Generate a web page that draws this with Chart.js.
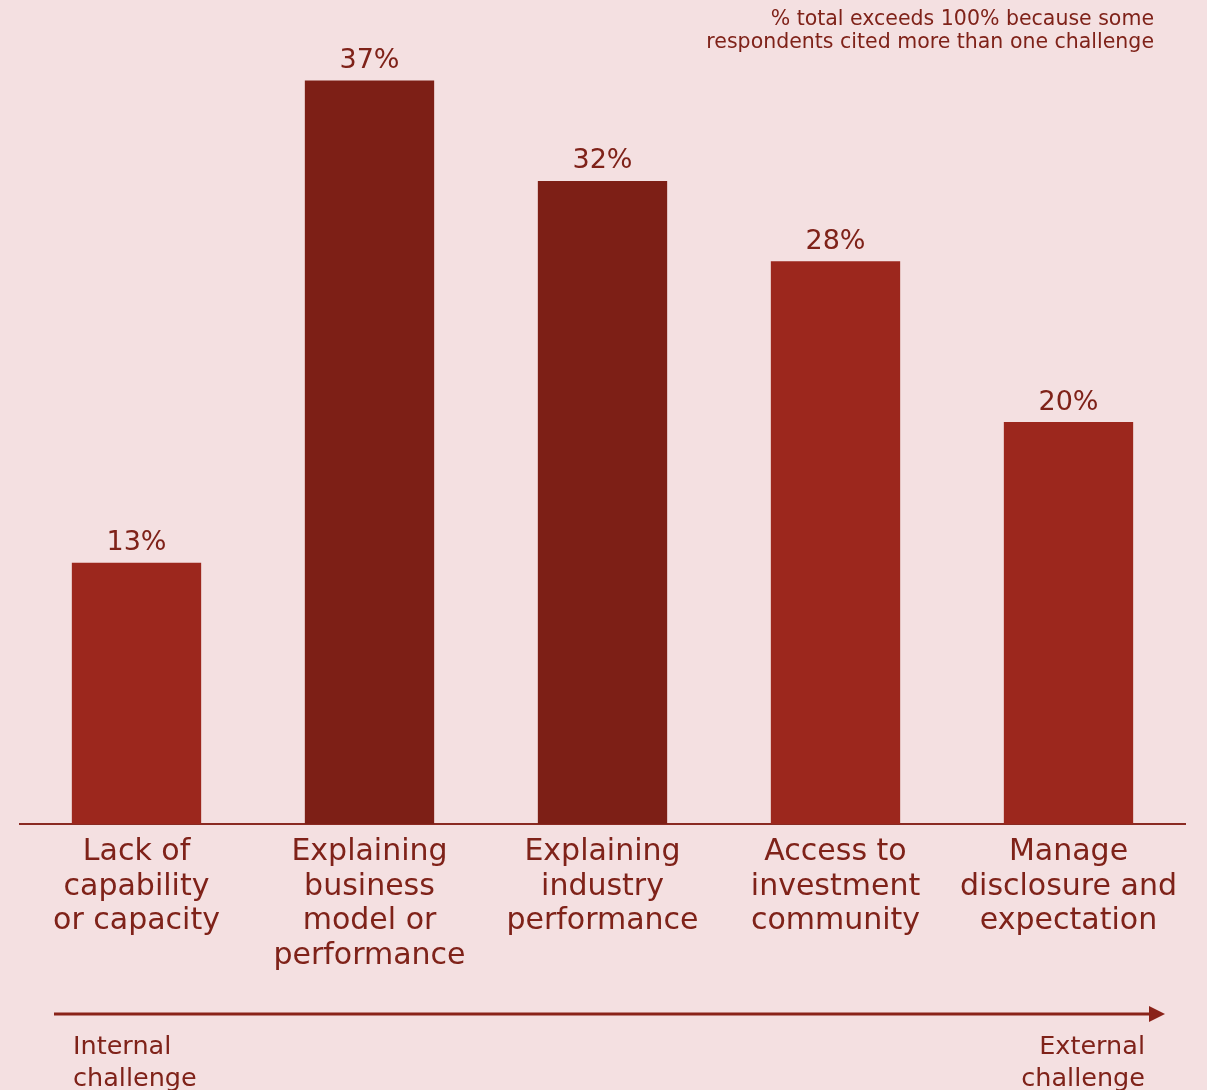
<!DOCTYPE html>
<html>
<head>
<meta charset="utf-8">
<script src="https://cdn.jsdelivr.net/npm/chart.js@4/dist/chart.umd.min.js"></script>
<style>
  html, body { margin: 0; padding: 0; background: #f4e0e1; }
  #wrap { position: relative; width: 1207px; height: 1090px; overflow: hidden; }
  canvas { position: absolute; left: 0; top: 0; }
  .txt { position: absolute; font-family: "DejaVu Sans", sans-serif; color: #7f2219; white-space: nowrap; }
  #note { right: 53px; top: 7px; font-size: 20.5px; line-height: 23px; text-align: right; }
  #internal { left: 73px; top: 1029px; font-size: 25.5px; line-height: 32px; }
  #external { right: 62px; top: 1029px; font-size: 25.5px; line-height: 32px; text-align: right; }
</style>
</head>
<body>
<div id="wrap">
  <canvas id="c" width="1207" height="1090"></canvas>
  <div class="txt" id="note">% total exceeds 100% because some<br>respondents cited more than one challenge</div>
  <div class="txt" id="internal">Internal<br>challenge</div>
  <div class="txt" id="external">External<br>challenge</div>
</div>
<script>
const categories = [
  ["Lack of", "capability", "or capacity"],
  ["Explaining", "business", "model or", "performance"],
  ["Explaining", "industry", "performance"],
  ["Access to", "investment", "community"],
  ["Manage", "disclosure and", "expectation"]
];
const values = [13, 37, 32, 28, 20];
const barColors = ["#9c271d", "#7d1f16", "#7d1f16", "#9c271d", "#9c271d"];

const textColor = "#7f2219";
const fontFamily = '"DejaVu Sans", sans-serif';

const valueLabels = {
  id: "valueLabels",
  afterDatasetsDraw(chart) {
    const ctx = chart.ctx;
    const meta = chart.getDatasetMeta(0);
    ctx.save();
    ctx.fillStyle = textColor;
    ctx.font = "27px " + fontFamily;
    ctx.textAlign = "center";
    ctx.textBaseline = "bottom";
    meta.data.forEach((bar, i) => {
      ctx.fillText(values[i] + "%", bar.x, bar.y - 6);
    });
    ctx.restore();
  }
};

const arrowPlugin = {
  id: "arrowPlugin",
  afterDraw(chart) {
    const ctx = chart.ctx;
    ctx.save();
    ctx.strokeStyle = "#8a2319";
    ctx.fillStyle = "#8a2319";
    ctx.lineWidth = 3;
    ctx.beginPath();
    ctx.moveTo(54, 1014);
    ctx.lineTo(1152, 1014);
    ctx.stroke();
    ctx.beginPath();
    ctx.moveTo(1149, 1006);
    ctx.lineTo(1165, 1014);
    ctx.lineTo(1149, 1022);
    ctx.closePath();
    ctx.fill();
    ctx.restore();
  }
};

new Chart(document.getElementById("c"), {
  type: "bar",
  data: {
    labels: categories,
    datasets: [{
      data: values,
      backgroundColor: barColors,
      borderWidth: 0,
      barPercentage: 0.555,
      categoryPercentage: 1.0
    }]
  },
  options: {
    responsive: false,
    animation: false,
    events: [],
    layout: { padding: { top: 0, left: 20, right: 22, bottom: 0 } },
    plugins: { legend: { display: false }, tooltip: { enabled: false } },
    scales: {
      x: {
        grid: { display: false, drawTicks: false },
        border: { display: true, color: "#8a2a22", width: 2 },
        ticks: {
          color: textColor,
          font: { family: fontFamily, size: 30, lineHeight: 1.15 },
          padding: 11,
          maxRotation: 0,
          autoSkip: false
        },
        afterFit(scale) { scale.height = 266; }
      },
      y: {
        display: false,
        min: 0,
        max: 41
      }
    }
  },
  plugins: [valueLabels, arrowPlugin]
});
</script>
</body>
</html>
